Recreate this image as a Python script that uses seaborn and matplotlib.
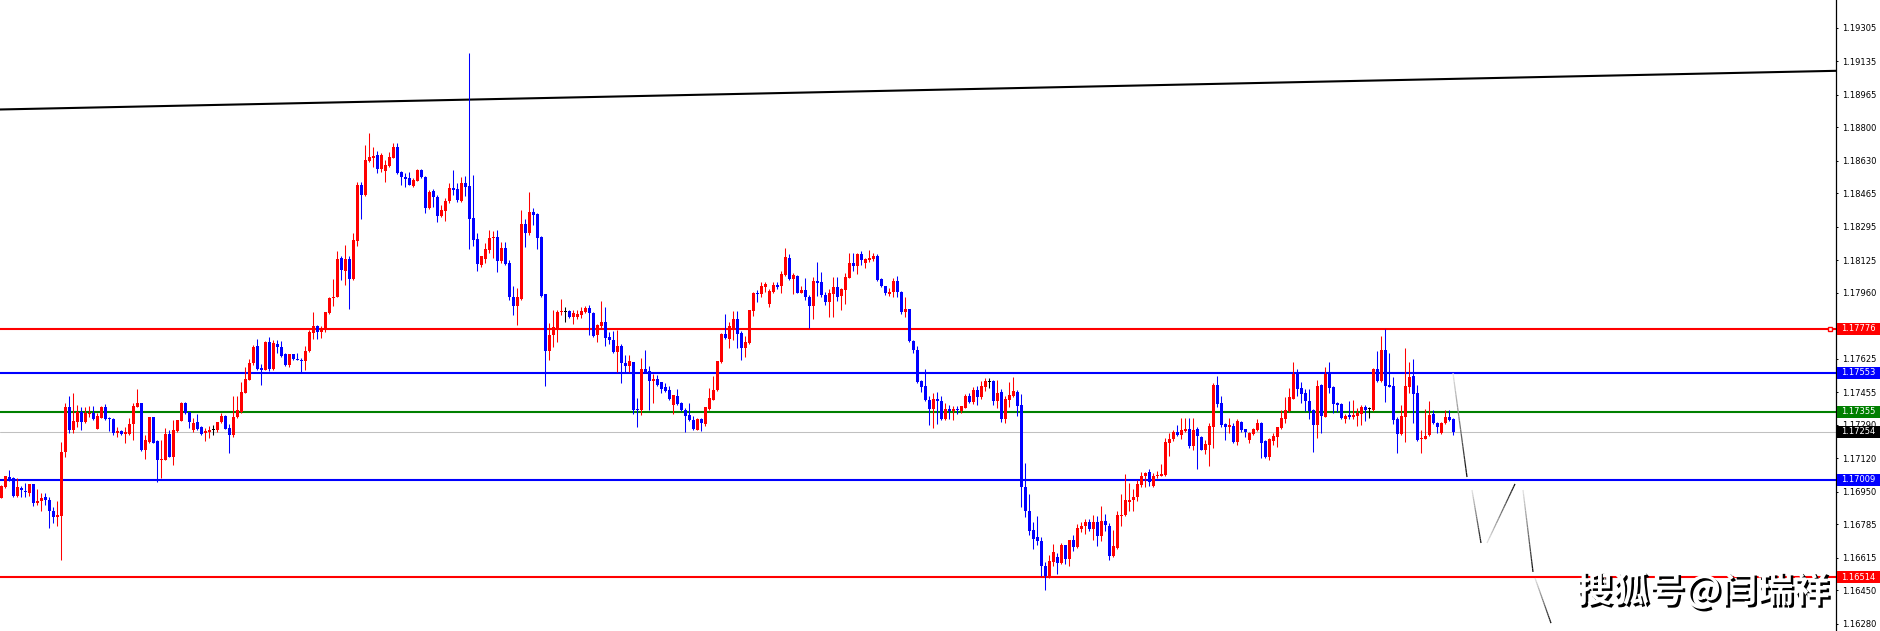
import numpy as np
import matplotlib
matplotlib.use('Agg')
import matplotlib.pyplot as plt
import matplotlib.patheffects as pe
from matplotlib.collections import LineCollection
from matplotlib.patches import Rectangle
from matplotlib.transforms import blended_transform_factory
import seaborn as sns

# candle data (EURUSD style quotes), one value per bar
opens = [
    1.16920, 1.16971, 1.17023, 1.17018, 1.16930, 1.16966, 1.16954, 1.16945, 1.16989, 1.16891,
    1.16900, 1.16923, 1.16908, 1.16852, 1.16819, 1.16824, 1.17153, 1.17381, 1.17263, 1.17305,
    1.17353, 1.17305, 1.17344, 1.17348, 1.17268, 1.17326, 1.17380, 1.17324, 1.17319, 1.17246,
    1.17260, 1.17241, 1.17241, 1.17294, 1.17381, 1.17398, 1.17162, 1.17204, 1.17327, 1.17207,
    1.17111, 1.17111, 1.17243, 1.17125, 1.17260, 1.17310, 1.17402, 1.17353, 1.17263, 1.17305,
    1.17280, 1.17246, 1.17255, 1.17262, 1.17263, 1.17302, 1.17334, 1.17275, 1.17239, 1.17327,
    1.17356, 1.17452, 1.17519, 1.17603, 1.17691, 1.17578, 1.17566, 1.17708, 1.17573, 1.17701,
    1.17684, 1.17649, 1.17595, 1.17649, 1.17625, 1.17620, 1.17612, 1.17663, 1.17755, 1.17793,
    1.17759, 1.17769, 1.17857, 1.17933, 1.17941, 1.18139, 1.18068, 1.18132, 1.18031, 1.18225,
    1.18507, 1.18457, 1.18629, 1.18646, 1.18660, 1.18589, 1.18578, 1.18605, 1.18646, 1.18700,
    1.18573, 1.18546, 1.18543, 1.18504, 1.18529, 1.18584, 1.18550, 1.18393, 1.18477, 1.18448,
    1.18352, 1.18377, 1.18426, 1.18491, 1.18487, 1.18428, 1.18519, 1.18502, 1.18340, 1.18234,
    1.18099, 1.18132, 1.18177, 1.18238, 1.18242, 1.18122, 1.18189, 1.18110, 1.17941, 1.17893,
    1.17929, 1.18309, 1.18265, 1.18372, 1.18360, 1.18245, 1.17953, 1.17662, 1.17743, 1.17780,
    1.17860, 1.17864, 1.17868, 1.17839, 1.17836, 1.17848, 1.17860, 1.17885, 1.17856, 1.17743,
    1.17789, 1.17814, 1.17733, 1.17721, 1.17657, 1.17692, 1.17603, 1.17586, 1.17606, 1.17370,
    1.17363, 1.17574, 1.17564, 1.17510, 1.17522, 1.17505, 1.17479, 1.17468, 1.17392, 1.17434,
    1.17400, 1.17366, 1.17341, 1.17315, 1.17265, 1.17321, 1.17295, 1.17371, 1.17417, 1.17464,
    1.17608, 1.17751, 1.17726, 1.17772, 1.17828, 1.17758, 1.17681, 1.17704, 1.17868, 1.17961,
    1.17953, 1.17987, 1.17904, 1.17965, 1.18000, 1.17992, 1.18051, 1.18137, 1.18031, 1.18046,
    1.17961, 1.17975, 1.17941, 1.17894, 1.18022, 1.18017, 1.17949, 1.17911, 1.17955, 1.17987,
    1.17944, 1.17975, 1.18037, 1.18110, 1.18098, 1.18157, 1.18113, 1.18125, 1.18132, 1.18149,
    1.18029, 1.17992, 1.17955, 1.17963, 1.18022, 1.17966, 1.17860, 1.17878, 1.17716, 1.17671,
    1.17510, 1.17485, 1.17417, 1.17371, 1.17422, 1.17412, 1.17319, 1.17370, 1.17358, 1.17371,
    1.17358, 1.17377, 1.17436, 1.17407, 1.17466, 1.17432, 1.17483, 1.17508, 1.17512, 1.17412,
    1.17456, 1.17319, 1.17415, 1.17436, 1.17456, 1.17390, 1.16973, 1.16853, 1.16756, 1.16718,
    1.16701, 1.16574, 1.16515, 1.16593, 1.16620, 1.16586, 1.16679, 1.16609, 1.16706, 1.16669,
    1.16762, 1.16773, 1.16794, 1.16762, 1.16794, 1.16723, 1.16802, 1.16777, 1.16621, 1.16663,
    1.16824, 1.16832, 1.16898, 1.16905, 1.16922, 1.16985, 1.17027, 1.17049, 1.16976, 1.17030,
    1.17030, 1.17032, 1.17199, 1.17216, 1.17252, 1.17238, 1.17260, 1.17268, 1.17182, 1.17268,
    1.17226, 1.17162, 1.17189, 1.17280, 1.17491, 1.17398, 1.17294, 1.17277, 1.17284, 1.17202,
    1.17304, 1.17267, 1.17213, 1.17243, 1.17263, 1.17297, 1.17208, 1.17128, 1.17208, 1.17225,
    1.17272, 1.17317, 1.17360, 1.17422, 1.17547, 1.17475, 1.17453, 1.17410, 1.17365, 1.17289,
    1.17491, 1.17331, 1.17547, 1.17483, 1.17402, 1.17395, 1.17319, 1.17339, 1.17328, 1.17334,
    1.17344, 1.17378, 1.17370, 1.17365, 1.17571, 1.17512, 1.17669, 1.17491, 1.17486, 1.17317,
    1.17241, 1.17331, 1.17483, 1.17537, 1.17449, 1.17216, 1.17218, 1.17235, 1.17343, 1.17301,
    1.17246, 1.17297, 1.17328, 1.17319,
]
highs = [
    1.16984, 1.17030, 1.17060, 1.17023, 1.17018, 1.16979, 1.16993, 1.16989, 1.16989, 1.16962,
    1.16945, 1.16945, 1.16925, 1.16874, 1.16903, 1.17204, 1.17402, 1.17435, 1.17451, 1.17390,
    1.17380, 1.17381, 1.17385, 1.17385, 1.17348, 1.17385, 1.17393, 1.17331, 1.17322, 1.17280,
    1.17263, 1.17280, 1.17322, 1.17402, 1.17471, 1.17402, 1.17238, 1.17331, 1.17331, 1.17212,
    1.17212, 1.17272, 1.17263, 1.17314, 1.17314, 1.17407, 1.17405, 1.17356, 1.17322, 1.17343,
    1.17283, 1.17272, 1.17285, 1.17288, 1.17304, 1.17351, 1.17337, 1.17292, 1.17435, 1.17435,
    1.17508, 1.17584, 1.17624, 1.17696, 1.17725, 1.17600, 1.17713, 1.17735, 1.17722, 1.17718,
    1.17713, 1.17654, 1.17649, 1.17649, 1.17654, 1.17629, 1.17688, 1.17772, 1.17864, 1.17798,
    1.17793, 1.17862, 1.17938, 1.18029, 1.18173, 1.18148, 1.18203, 1.18148, 1.18266, 1.18524,
    1.18522, 1.18712, 1.18769, 1.18698, 1.18678, 1.18671, 1.18634, 1.18673, 1.18719, 1.18719,
    1.18580, 1.18570, 1.18572, 1.18541, 1.18590, 1.18587, 1.18553, 1.18482, 1.18485, 1.18455,
    1.18406, 1.18440, 1.18516, 1.18584, 1.18516, 1.18546, 1.18553, 1.19178, 1.18558, 1.18262,
    1.18148, 1.18211, 1.18279, 1.18274, 1.18279, 1.18220, 1.18220, 1.18127, 1.17995, 1.17983,
    1.18380, 1.18333, 1.18471, 1.18392, 1.18363, 1.18248, 1.17954, 1.17806, 1.17870, 1.17870,
    1.17929, 1.17890, 1.17873, 1.17873, 1.17873, 1.17890, 1.17893, 1.17899, 1.17860, 1.17802,
    1.17919, 1.17890, 1.17763, 1.17768, 1.17772, 1.17701, 1.17645, 1.17645, 1.17606, 1.17425,
    1.17628, 1.17667, 1.17586, 1.17549, 1.17544, 1.17507, 1.17501, 1.17485, 1.17442, 1.17473,
    1.17403, 1.17375, 1.17400, 1.17336, 1.17322, 1.17324, 1.17380, 1.17476, 1.17535, 1.17611,
    1.17758, 1.17853, 1.17809, 1.17868, 1.17868, 1.17764, 1.17738, 1.17873, 1.17965, 1.17975,
    1.18017, 1.18017, 1.17978, 1.18017, 1.18017, 1.18068, 1.18186, 1.18157, 1.18059, 1.18051,
    1.17992, 1.18037, 1.17949, 1.18042, 1.18118, 1.18063, 1.17966, 1.17978, 1.18042, 1.18042,
    1.17983, 1.18059, 1.18164, 1.18161, 1.18164, 1.18172, 1.18135, 1.18178, 1.18161, 1.18157,
    1.18034, 1.17992, 1.17983, 1.18034, 1.18046, 1.17971, 1.17938, 1.17878, 1.17721, 1.17691,
    1.17518, 1.17573, 1.17434, 1.17451, 1.17454, 1.17434, 1.17400, 1.17392, 1.17387, 1.17387,
    1.17387, 1.17446, 1.17453, 1.17480, 1.17486, 1.17510, 1.17525, 1.17525, 1.17517, 1.17517,
    1.17471, 1.17436, 1.17508, 1.17530, 1.17466, 1.17446, 1.17094, 1.16939, 1.16794, 1.16827,
    1.16718, 1.16594, 1.16626, 1.16685, 1.16638, 1.16689, 1.16680, 1.16706, 1.16731, 1.16787,
    1.16794, 1.16811, 1.16812, 1.16832, 1.16827, 1.16875, 1.16838, 1.16790, 1.16756, 1.16853,
    1.16939, 1.17040, 1.16993, 1.16963, 1.17010, 1.17052, 1.17052, 1.17066, 1.17044, 1.17057,
    1.17091, 1.17221, 1.17247, 1.17263, 1.17289, 1.17323, 1.17323, 1.17323, 1.17323, 1.17280,
    1.17233, 1.17213, 1.17297, 1.17503, 1.17537, 1.17436, 1.17301, 1.17322, 1.17301, 1.17319,
    1.17307, 1.17270, 1.17255, 1.17275, 1.17319, 1.17305, 1.17213, 1.17221, 1.17246, 1.17280,
    1.17365, 1.17429, 1.17475, 1.17608, 1.17571, 1.17505, 1.17469, 1.17469, 1.17368, 1.17517,
    1.17497, 1.17584, 1.17608, 1.17486, 1.17407, 1.17398, 1.17344, 1.17410, 1.17415, 1.17373,
    1.17390, 1.17390, 1.17382, 1.17576, 1.17666, 1.17740, 1.17774, 1.17652, 1.17534, 1.17331,
    1.17390, 1.17681, 1.17610, 1.17622, 1.17491, 1.17263, 1.17368, 1.17412, 1.17365, 1.17306,
    1.17306, 1.17365, 1.17365, 1.17322,
]
lows = [
    1.16915, 1.16966, 1.17006, 1.16925, 1.16925, 1.16925, 1.16925, 1.16928, 1.16878, 1.16880,
    1.16854, 1.16883, 1.16765, 1.16790, 1.16773, 1.16604, 1.17128, 1.17246, 1.17250, 1.17280,
    1.17263, 1.17297, 1.17331, 1.17314, 1.17268, 1.17322, 1.17314, 1.17258, 1.17238, 1.17226,
    1.17238, 1.17199, 1.17238, 1.17212, 1.17381, 1.17158, 1.17114, 1.17199, 1.17196, 1.17001,
    1.17018, 1.17111, 1.17125, 1.17086, 1.17255, 1.17309, 1.17344, 1.17275, 1.17255, 1.17263,
    1.17238, 1.17209, 1.17221, 1.17236, 1.17255, 1.17297, 1.17266, 1.17148, 1.17229, 1.17322,
    1.17348, 1.17449, 1.17515, 1.17595, 1.17566, 1.17493, 1.17566, 1.17561, 1.17570, 1.17654,
    1.17634, 1.17590, 1.17583, 1.17620, 1.17617, 1.17558, 1.17566, 1.17657, 1.17727, 1.17727,
    1.17730, 1.17762, 1.17852, 1.17891, 1.17938, 1.18026, 1.18000, 1.17880, 1.18026, 1.18198,
    1.18335, 1.18452, 1.18626, 1.18600, 1.18567, 1.18572, 1.18524, 1.18600, 1.18643, 1.18563,
    1.18507, 1.18499, 1.18507, 1.18499, 1.18528, 1.18541, 1.18367, 1.18384, 1.18394, 1.18317,
    1.18347, 1.18327, 1.18415, 1.18457, 1.18420, 1.18421, 1.18452, 1.18181, 1.18195, 1.18068,
    1.18090, 1.18110, 1.18164, 1.18135, 1.18063, 1.18110, 1.18101, 1.17924, 1.17845, 1.17794,
    1.17924, 1.18194, 1.18253, 1.18304, 1.18182, 1.17937, 1.17488, 1.17616, 1.17684, 1.17708,
    1.17845, 1.17809, 1.17831, 1.17802, 1.17828, 1.17831, 1.17856, 1.17743, 1.17735, 1.17708,
    1.17775, 1.17692, 1.17699, 1.17654, 1.17557, 1.17501, 1.17557, 1.17557, 1.17346, 1.17277,
    1.17341, 1.17556, 1.17363, 1.17400, 1.17485, 1.17451, 1.17454, 1.17417, 1.17344, 1.17392,
    1.17358, 1.17251, 1.17307, 1.17261, 1.17261, 1.17256, 1.17285, 1.17366, 1.17414, 1.17459,
    1.17603, 1.17724, 1.17679, 1.17721, 1.17679, 1.17617, 1.17632, 1.17701, 1.17843, 1.17911,
    1.17941, 1.17966, 1.17890, 1.17958, 1.17978, 1.17958, 1.18047, 1.18026, 1.17955, 1.17958,
    1.17958, 1.17924, 1.17780, 1.17828, 1.17944, 1.17941, 1.17899, 1.17836, 1.17836, 1.17916,
    1.17870, 1.17904, 1.18034, 1.18071, 1.18056, 1.18102, 1.18088, 1.18118, 1.18123, 1.18020,
    1.17988, 1.17949, 1.17944, 1.17941, 1.17941, 1.17853, 1.17836, 1.17708, 1.17654, 1.17502,
    1.17454, 1.17409, 1.17290, 1.17273, 1.17295, 1.17316, 1.17312, 1.17319, 1.17316, 1.17346,
    1.17349, 1.17373, 1.17402, 1.17395, 1.17390, 1.17419, 1.17463, 1.17475, 1.17390, 1.17373,
    1.17306, 1.17297, 1.17378, 1.17432, 1.17336, 1.16871, 1.16821, 1.16731, 1.16658, 1.16677,
    1.16520, 1.16449, 1.16510, 1.16574, 1.16530, 1.16582, 1.16584, 1.16570, 1.16647, 1.16663,
    1.16743, 1.16734, 1.16751, 1.16706, 1.16675, 1.16697, 1.16748, 1.16604, 1.16616, 1.16660,
    1.16773, 1.16827, 1.16849, 1.16854, 1.16900, 1.16971, 1.16973, 1.16976, 1.16971, 1.17018,
    1.17027, 1.17030, 1.17132, 1.17209, 1.17233, 1.17216, 1.17255, 1.17169, 1.17162, 1.17066,
    1.17159, 1.17142, 1.17081, 1.17174, 1.17378, 1.17277, 1.17213, 1.17246, 1.17199, 1.17187,
    1.17255, 1.17226, 1.17199, 1.17238, 1.17258, 1.17120, 1.17120, 1.17111, 1.17187, 1.17179,
    1.17268, 1.17297, 1.17356, 1.17419, 1.17436, 1.17398, 1.17361, 1.17319, 1.17153, 1.17221,
    1.17246, 1.17328, 1.17453, 1.17348, 1.17356, 1.17317, 1.17300, 1.17317, 1.17317, 1.17285,
    1.17289, 1.17311, 1.17326, 1.17361, 1.17508, 1.17508, 1.17407, 1.17483, 1.17294, 1.17148,
    1.17238, 1.17204, 1.17449, 1.17297, 1.17209, 1.17145, 1.17218, 1.17230, 1.17294, 1.17246,
    1.17243, 1.17294, 1.17309, 1.17238,
]
closes = [
    1.16981, 1.17027, 1.17015, 1.16928, 1.16971, 1.16957, 1.16949, 1.16989, 1.16890, 1.16903,
    1.16920, 1.16906, 1.16849, 1.16820, 1.16832, 1.17153, 1.17381, 1.17263, 1.17309, 1.17356,
    1.17305, 1.17348, 1.17351, 1.17317, 1.17336, 1.17380, 1.17321, 1.17321, 1.17246, 1.17258,
    1.17243, 1.17251, 1.17292, 1.17385, 1.17398, 1.17162, 1.17212, 1.17327, 1.17199, 1.17111,
    1.17114, 1.17243, 1.17125, 1.17263, 1.17314, 1.17402, 1.17348, 1.17305, 1.17300, 1.17268,
    1.17243, 1.17258, 1.17263, 1.17262, 1.17304, 1.17334, 1.17268, 1.17239, 1.17327, 1.17364,
    1.17454, 1.17522, 1.17603, 1.17684, 1.17573, 1.17566, 1.17708, 1.17573, 1.17705, 1.17683,
    1.17640, 1.17595, 1.17649, 1.17624, 1.17617, 1.17612, 1.17666, 1.17762, 1.17793, 1.17759,
    1.17781, 1.17862, 1.17933, 1.17941, 1.18132, 1.18077, 1.18132, 1.18031, 1.18229, 1.18507,
    1.18457, 1.18634, 1.18651, 1.18656, 1.18589, 1.18660, 1.18611, 1.18649, 1.18700, 1.18570,
    1.18546, 1.18538, 1.18507, 1.18533, 1.18584, 1.18546, 1.18393, 1.18474, 1.18445, 1.18350,
    1.18381, 1.18428, 1.18491, 1.18482, 1.18431, 1.18519, 1.18499, 1.18337, 1.18229, 1.18107,
    1.18148, 1.18182, 1.18238, 1.18245, 1.18123, 1.18189, 1.18106, 1.17941, 1.17893, 1.17936,
    1.18309, 1.18265, 1.18372, 1.18355, 1.18237, 1.17944, 1.17662, 1.17746, 1.17784, 1.17860,
    1.17868, 1.17864, 1.17839, 1.17856, 1.17853, 1.17865, 1.17885, 1.17856, 1.17738, 1.17794,
    1.17809, 1.17730, 1.17718, 1.17657, 1.17692, 1.17603, 1.17586, 1.17611, 1.17363, 1.17363,
    1.17572, 1.17556, 1.17510, 1.17523, 1.17493, 1.17473, 1.17463, 1.17422, 1.17442, 1.17397,
    1.17363, 1.17336, 1.17312, 1.17268, 1.17321, 1.17299, 1.17380, 1.17425, 1.17468, 1.17611,
    1.17751, 1.17730, 1.17789, 1.17828, 1.17752, 1.17681, 1.17710, 1.17873, 1.17958, 1.17953,
    1.17992, 1.18005, 1.17970, 1.18000, 1.17988, 1.18056, 1.18144, 1.18031, 1.18051, 1.17961,
    1.17975, 1.17936, 1.17894, 1.18022, 1.18012, 1.17949, 1.17911, 1.17961, 1.17987, 1.17941,
    1.17980, 1.18039, 1.18110, 1.18098, 1.18157, 1.18127, 1.18129, 1.18139, 1.18149, 1.18026,
    1.17992, 1.17958, 1.17966, 1.18022, 1.17963, 1.17860, 1.17878, 1.17713, 1.17667, 1.17505,
    1.17481, 1.17414, 1.17371, 1.17422, 1.17409, 1.17319, 1.17370, 1.17358, 1.17371, 1.17365,
    1.17383, 1.17436, 1.17407, 1.17466, 1.17432, 1.17486, 1.17510, 1.17508, 1.17412, 1.17451,
    1.17319, 1.17419, 1.17441, 1.17461, 1.17387, 1.16973, 1.16853, 1.16751, 1.16711, 1.16697,
    1.16571, 1.16520, 1.16599, 1.16645, 1.16587, 1.16679, 1.16609, 1.16706, 1.16669, 1.16767,
    1.16777, 1.16794, 1.16762, 1.16794, 1.16723, 1.16802, 1.16778, 1.16621, 1.16672, 1.16829,
    1.16832, 1.16909, 1.16909, 1.16925, 1.16990, 1.17030, 1.17047, 1.17001, 1.17030, 1.17035,
    1.17040, 1.17203, 1.17219, 1.17252, 1.17238, 1.17263, 1.17268, 1.17182, 1.17263, 1.17230,
    1.17162, 1.17193, 1.17284, 1.17491, 1.17395, 1.17289, 1.17280, 1.17287, 1.17202, 1.17311,
    1.17263, 1.17255, 1.17246, 1.17268, 1.17297, 1.17199, 1.17125, 1.17218, 1.17230, 1.17277,
    1.17322, 1.17365, 1.17429, 1.17547, 1.17471, 1.17446, 1.17410, 1.17361, 1.17289, 1.17486,
    1.17334, 1.17547, 1.17478, 1.17395, 1.17390, 1.17322, 1.17334, 1.17331, 1.17339, 1.17351,
    1.17378, 1.17365, 1.17370, 1.17571, 1.17512, 1.17669, 1.17486, 1.17483, 1.17314, 1.17243,
    1.17334, 1.17486, 1.17530, 1.17446, 1.17213, 1.17221, 1.17233, 1.17339, 1.17297, 1.17277,
    1.17297, 1.17328, 1.17314, 1.17254,
]

# horizontal levels drawn on the chart
level_prices = [1.17776, 1.17553, 1.17355, 1.17009, 1.16514]
level_colors = ['#ff0000', '#0000ff', '#008000', '#0000ff', '#ff0000']
current_price = 1.17254

# trend line anchors (bar index, price)
trend_points = [(0, 1.18891), (458, 1.19087)]

# projected path drawn after the last bar, as (bar index, price) pairs
path_segments = [
    [(363.0, 1.17552), (366.5, 1.17024)],
    [(367.75, 1.16958), (370.0, 1.16689)],
    [(371.5, 1.16689), (378.5, 1.16989)],
    [(380.5, 1.16958), (383.0, 1.16542)],
    [(383.5, 1.16511), (387.5, 1.16282)],
]

tick_values = [1.19305, 1.19135, 1.18965, 1.18800, 1.18630, 1.18465, 1.18295, 1.18125,
               1.17960, 1.17625, 1.17455, 1.17290, 1.17120, 1.16950, 1.16785, 1.16615,
               1.16450, 1.16280]

sns.set_style('white')

W, H = 1881, 631
fig = plt.figure(figsize=(W / 100, H / 100), dpi=100)
ax = fig.add_axes([0, 0, 1836 / W, 1])

o = np.array(opens)
hi = np.array(highs)
lo = np.array(lows)
c = np.array(closes)
x = np.arange(len(o))

cols = np.where(c > o, '#ff0000', np.where(c < o, '#0000ff', '#000000'))
ax.vlines(x, lo, hi, colors=cols, linewidth=0.75, zorder=3)
body_low = np.minimum(o, c)
body_h = np.maximum(np.abs(c - o), 0.00004)
ax.bar(x, body_h, bottom=body_low, width=0.75, color=cols, linewidth=0, zorder=4)

# levels
ax.axhline(current_price, color='#c0c0c0', lw=0.75, zorder=1)
for p, col in zip(level_prices, level_colors):
    ax.axhline(p, color=col, lw=1.5, zorder=2)
ax.plot(457.3, level_prices[0], marker='s', ms=3.5, mfc='white', mec='#ff0000', mew=1,
        zorder=6, clip_on=False)

# trend line
ax.axline(trend_points[0], trend_points[1], color='black', lw=1.5, zorder=2)

# projected path, fading from light grey to black
for seg in path_segments:
    (x0, y0), (x1, y1) = seg
    t = np.linspace(0, 1, 25)
    xs = x0 + (x1 - x0) * t
    ys = y0 + (y1 - y0) * t
    pts = np.column_stack([xs, ys]).reshape(-1, 1, 2)
    segs = np.concatenate([pts[:-1], pts[1:]], axis=1)
    shade = np.linspace(0.88, 0.05, len(segs))
    lc = LineCollection(segs, colors=[(s, s, s) for s in shade], linewidths=0.9, zorder=5)
    ax.add_collection(lc)

ax.set_xlim(-0.25, 458.75)
ax.set_ylim(1.16242, 1.19447)

# right price scale
ax.yaxis.tick_right()
ax.set_yticks(tick_values)
ax.set_yticklabels(['%.5f' % v for v in tick_values])
ax.tick_params(axis='y', labelsize=6, length=1.5, width=0.7, pad=3, colors='black')
ax.set_xticks([])
for side in ['left', 'top', 'bottom']:
    ax.spines[side].set_visible(False)
ax.spines['right'].set_color('black')
ax.spines['right'].set_linewidth(0.9)

# price tags on the scale
tr = blended_transform_factory(fig.transFigure, ax.transData)
tag_h = 12 * (1.19447 - 1.16242) / H
tags = list(zip(level_prices, level_colors)) + [(current_price, '#000000')]
for p, col in tags:
    ax.add_patch(Rectangle((1837 / W, p - tag_h / 2), 44 / W, tag_h, transform=tr,
                           facecolor=col, edgecolor='none', clip_on=False, zorder=10))
    ax.text(1841 / W, p, '%.5f' % p, transform=tr, ha='left', va='center',
            fontsize=6, color='white', zorder=11, clip_on=False)

# watermark
fig.text(1703 / W, 1 - 591 / H, '搜狐号@闫瑞祥', ha='center', va='center',
         fontsize=26, color='white', fontweight='bold',
         family=['Noto Sans CJK SC', 'DejaVu Sans'], zorder=20,
         path_effects=[pe.withSimplePatchShadow(offset=(1.8, -1.8), shadow_rgbFace='black', alpha=1.0)])

fig.savefig('out.png', dpi=100)
